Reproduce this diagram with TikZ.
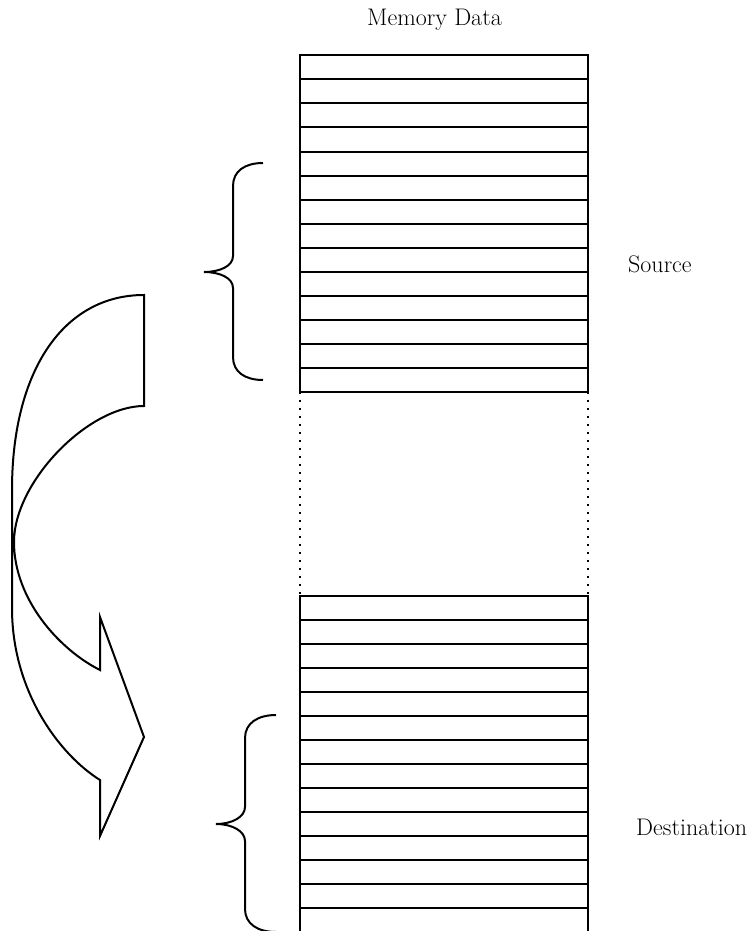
\documentclass[tikz,border=0pt]{standalone}
\usepackage{fontspec}
\begin{document}
\begin{tikzpicture}[x=1pt,y=-1pt,
  cell/.style={draw,line width=2pt,minimum width=288pt,minimum height=24pt,inner sep=0pt,outer sep=0pt},
  lbl/.style={inner sep=0pt,anchor=base west,font=\fontsize{24}{28}\selectfont},
  gap/.style={line width=2pt,dash pattern=on 2pt off 6pt},
  outline/.style={line width=2pt,line join=miter}]
\useasboundingbox (0,0) rectangle (752,931);
% title and labels
\node[lbl] (title) at (367,26) {Memory Data};
\node[lbl] (src) at (628,272) {Source};
\node[lbl] (dst) at (636,835) {Destination};
% source stack
\foreach \i in {0,...,13}{
  \node[cell] (s\i) at (444,{67.5+24*\i}) {};
}
% destination stack
\foreach \i in {0,...,13}{
  \node[cell] (d\i) at (444,{608+24*\i}) {};
}
% dotted continuation
\draw[gap] (s13.south west) -- (d0.north west);
\draw[gap] (s13.south east) -- (d0.north east);
% braces
\draw[outline] (263,163) .. controls (245,163) and (233,171) .. (233,186) -- (233,256)
  .. controls (233,266) and (220,272) .. (204,272) .. controls (220,272) and (233,278) .. (233,288)
  -- (233,357) .. controls (233,372) and (245,380) .. (263,380);
\draw[outline] (276,715) .. controls (258,715) and (245,723) .. (245,738) -- (245,807)
  .. controls (245,817) and (232,824) .. (216,824) .. controls (232,824) and (245,831) .. (245,841)
  -- (245,909) .. controls (245,924) and (258,932) .. (276,932);
% curved arrow
\draw[outline] (144,295) .. controls (64,295) and (12,370) .. (12,490)
  -- (12,608) .. controls (12,692) and (60,755) .. (100,780)
  -- (100,836) -- (144,737) -- (100,617) -- (100,670)
  .. controls (60,650) and (14,600) .. (14,542)
  .. controls (14,482) and (88,406) .. (144,406) -- cycle;
\end{tikzpicture}
\end{document}
